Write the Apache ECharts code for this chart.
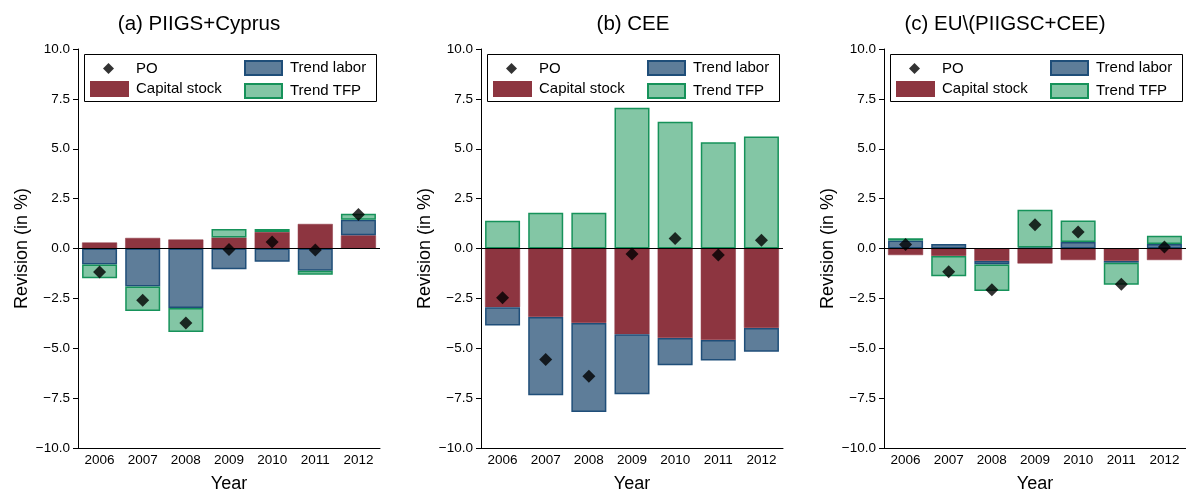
<!DOCTYPE html>
<html>
<head>
<meta charset="utf-8">
<script src="https://cdn.jsdelivr.net/npm/echarts@6/dist/echarts.min.js"></script>
<style>html,body{margin:0;padding:0;background:#fff}#c{width:1186px;height:498px}</style>
</head>
<body>
<div id="c"></div>
<script>
const years = ['2006','2007','2008','2009','2010','2011','2012'];
const panelTitles = ['(a) PIIGS+Cyprus', '(b) CEE', '(c) EU\\(PIIGSC+CEE)'];
const yTicks = [-10, -7.5, -5, -2.5, 0, 2.5, 5, 7.5, 10];

// (a) PIIGS+Cyprus
const capA = [0.30, 0.53, 0.45, 0.55, 0.83, 1.23, 0.66];
const labA = [-0.80, -1.91, -2.98, -1.04, -0.66, -1.11, 0.78];
const tfpA = [-0.69, -1.22, -1.20, 0.43, 0.15, -0.20, 0.30];
const poA  = [-1.18, -2.60, -3.73, -0.05, 0.33, -0.07, 1.71];
// (b) CEE
const capB = [-2.94, -3.43, -3.73, -4.30, -4.49, -4.59, -3.98];
const labB = [-0.92, -3.93, -4.46, -3.01, -1.36, -1.03, -1.19];
const tfpB = [1.39, 1.79, 1.79, 7.06, 6.35, 5.32, 5.61];
const poB  = [-2.47, -5.57, -6.40, -0.27, 0.50, -0.32, 0.41];
// (c) EU\(PIIGSC+CEE)
const capC = [-0.33, -0.38, -0.63, -0.75, -0.58, -0.63, -0.58];
const labC = [0.40, 0.22, -0.17, 0.05, 0.32, -0.08, 0.23];
const tfpC = [0.12, -1.01, -1.33, 1.89, 1.08, -1.11, 0.41];
const poC  = [0.20, -1.16, -2.07, 1.19, 0.83, -1.79, 0.08];

const panels = [
  {cap: capA, lab: labA, tfp: tfpA, po: poA},
  {cap: capB, lab: labB, tfp: tfpB, po: poB},
  {cap: capC, lab: labC, tfp: tfpC, po: poC}
];

const FONT = '"Liberation Sans", Arial, Helvetica, sans-serif';
const COL_CAP = '#8d3540', COL_LAB = '#5e7d99', COL_LAB_B = '#1f4e79', COL_TFP = '#83c6a5', COL_TFP_B = '#16925a';

const gridLefts = [78, 481, 884];
const gridW = 302;
const titleCenters = [194, 628, 1000];

const grids = [], xAxes = [], yAxes = [], series = [], titles = [], legends = [], graphics = [];

panels.forEach((p, i) => {
  const L = gridLefts[i];
  grids.push({left: L, top: 49, width: gridW, height: 402, containLabel: false});
  titles.push({text: panelTitles[i], left: titleCenters[i], top: 9, textAlign: 'center',
    textStyle: {fontFamily: FONT, fontSize: 20.5, fontWeight: 'normal', color: '#000'}});
  xAxes.push({type: 'category', gridIndex: i, data: years,
    axisLine: {show: true, onZero: false, lineStyle: {color: '#000', width: 1}},
    axisTick: {show: false},
    axisLabel: {fontFamily: FONT, fontSize: 13.5, color: '#000', margin: 5},
    name: 'Year', nameLocation: 'middle', nameGap: 27,
    nameTextStyle: {fontFamily: FONT, fontSize: 18, color: '#000'}});
  yAxes.push({type: 'value', gridIndex: i, min: -10, max: 10, interval: 2.5,
    axisLine: {show: true, lineStyle: {color: '#000', width: 1}},
    axisTick: {show: true, inside: false, length: 5, lineStyle: {color: '#000'}},
    splitLine: {show: false},
    axisLabel: {fontFamily: FONT, fontSize: 13.5, color: '#000', margin: 8,
      formatter: v => v.toFixed(1).replace('-', '\u2212')},
    name: 'Revision (in %)', nameLocation: 'middle', nameGap: 47, nameRotate: 90,
    nameTextStyle: {fontFamily: FONT, fontSize: 18, color: '#000'}});

  const stack = 's' + i;
  series.push({name: 'Capital stock', type: 'bar', xAxisIndex: i, yAxisIndex: i, stack: stack,
    data: p.cap, barWidth: 35, itemStyle: {color: COL_CAP, borderColor: COL_CAP, borderWidth: 0.5}, z: 2});
  series.push({name: 'Trend labor', type: 'bar', xAxisIndex: i, yAxisIndex: i, stack: stack,
    data: p.lab, barWidth: 35, itemStyle: {color: COL_LAB, borderColor: COL_LAB_B, borderWidth: 1.5}, z: 2});
  series.push({name: 'Trend TFP', type: 'bar', xAxisIndex: i, yAxisIndex: i, stack: stack,
    data: p.tfp, barWidth: 35, itemStyle: {color: COL_TFP, borderColor: COL_TFP_B, borderWidth: 1.5}, z: 2,
    markLine: {silent: true, symbol: 'none', label: {show: false},
      lineStyle: {color: '#000', width: 1, type: 'solid'}, data: [{yAxis: 0}]}});
  series.push({name: 'PO', type: 'scatter', xAxisIndex: i, yAxisIndex: i,
    data: p.po, symbol: 'diamond', symbolSize: 13, itemStyle: {color: '#000'}, z: 5});

  const boxL = L + 6;
  graphics.push({type: 'rect', left: boxL, top: 54, z: 1,
    shape: {width: 292, height: 47}, style: {fill: '#fff', stroke: '#000', lineWidth: 1}});
  const ts = {fontFamily: FONT, fontSize: 15, color: '#000', padding: [0, 0, 0, 3]};
  legends.push({left: boxL + 19, top: 61, orient: 'vertical', itemWidth: 11, itemHeight: 11,
    data: [{name: 'PO', icon: 'diamond'}],
    textStyle: Object.assign({}, ts, {padding: [0, 0, 0, 17]}), padding: 0, z: 5});
  legends.push({left: boxL + 6, top: 81, orient: 'vertical', itemWidth: 37, itemHeight: 14, itemGap: 7,
    data: [{name: 'Capital stock', icon: 'rect'}], textStyle: ts, padding: 0, z: 5});
  legends.push({left: boxL + 160, top: 60, orient: 'vertical', itemWidth: 37, itemHeight: 14, itemGap: 7,
    data: [{name: 'Trend labor', icon: 'rect'}, {name: 'Trend TFP', icon: 'rect'}], textStyle: ts, padding: 0, z: 5});
});

const chart = echarts.init(document.getElementById('c'), null, {renderer: 'canvas'});
chart.setOption({
  animation: false,
  backgroundColor: '#fff',
  title: titles,
  grid: grids,
  xAxis: xAxes,
  yAxis: yAxes,
  legend: legends,
  graphic: graphics,
  series: series
});
</script>
</body>
</html>
